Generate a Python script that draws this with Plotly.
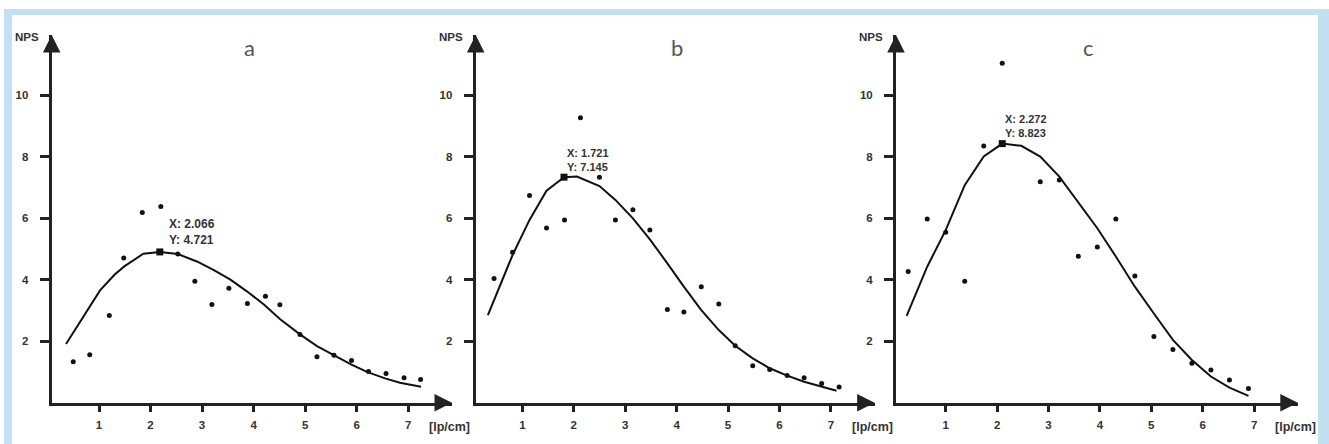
import plotly.graph_objects as go

W, H = 1329, 444

# ---------------- data ----------------
panel_titles = ["a", "b", "c"]

a_pts_x = [0.50, 0.82, 1.20, 1.48, 1.84, 2.20, 2.53, 2.86, 3.19, 3.52, 3.88, 4.23, 4.51, 4.90, 5.23, 5.56, 5.90, 6.23, 6.57, 6.92, 7.24]
a_pts_y = [1.33, 1.56, 2.83, 4.70, 6.18, 6.38, 4.83, 3.95, 3.19, 3.72, 3.22, 3.46, 3.18, 2.22, 1.49, 1.54, 1.37, 1.01, 0.95, 0.81, 0.75]
a_fit_x = [0.36, 0.70, 1.02, 1.30, 1.49, 1.86, 2.18, 2.53, 2.90, 3.22, 3.55, 3.87, 4.20, 4.51, 4.90, 5.23, 5.55, 5.90, 6.20, 6.55, 6.84, 7.25]
a_fit_y = [1.91, 2.81, 3.65, 4.16, 4.43, 4.84, 4.90, 4.83, 4.59, 4.32, 4.00, 3.62, 3.19, 2.72, 2.22, 1.84, 1.54, 1.24, 1.00, 0.79, 0.65, 0.52]

b_pts_x = [0.45, 0.81, 1.14, 1.47, 1.82, 2.13, 2.50, 2.81, 3.15, 3.48, 3.82, 4.14, 4.48, 4.82, 5.14, 5.48, 5.81, 6.15, 6.48, 6.82, 7.16]
b_pts_y = [4.04, 4.89, 6.73, 5.68, 5.94, 9.26, 7.33, 5.94, 6.27, 5.61, 3.03, 2.95, 3.77, 3.21, 1.85, 1.20, 1.08, 0.88, 0.81, 0.62, 0.51]
b_fit_x = [0.33, 0.81, 1.14, 1.47, 1.81, 2.06, 2.50, 2.81, 3.15, 3.48, 3.82, 4.14, 4.48, 4.82, 5.14, 5.48, 5.81, 6.15, 6.48, 6.82, 7.11]
b_fit_y = [2.85, 4.80, 5.94, 6.89, 7.33, 7.35, 7.04, 6.59, 5.99, 5.31, 4.53, 3.77, 3.01, 2.36, 1.85, 1.44, 1.12, 0.88, 0.68, 0.52, 0.39]

c_pts_x = [0.27, 0.64, 1.00, 1.37, 1.74, 2.10, 2.84, 3.21, 3.58, 3.95, 4.31, 4.68, 5.05, 5.42, 5.79, 6.16, 6.52, 6.89]
c_pts_y = [4.26, 5.97, 5.54, 3.95, 8.34, 11.03, 7.18, 7.24, 4.76, 5.06, 5.97, 4.12, 2.15, 1.73, 1.28, 1.06, 0.74, 0.46]
c_fit_x = [0.24, 0.64, 1.00, 1.37, 1.74, 2.10, 2.47, 2.84, 3.21, 3.58, 3.95, 4.31, 4.68, 5.05, 5.42, 5.79, 6.16, 6.52, 6.89]
c_fit_y = [2.82, 4.42, 5.61, 7.07, 8.00, 8.42, 8.35, 8.00, 7.35, 6.53, 5.67, 4.75, 3.77, 2.90, 2.04, 1.39, 0.85, 0.49, 0.22]

peak_x = [2.18, 1.81, 2.10]
peak_y = [4.90, 7.33, 8.42]
peak_labels = ["X: 2.066<br>Y: 4.721", "X: 1.721<br>Y: 7.145", "X: 2.272<br>Y: 8.823"]

x_tickvals = [1, 2, 3, 4, 5, 6, 7]
y_tickvals = [2, 4, 6, 8, 10]
y_label = "NPS"
x_label = "[lp/cm]"

# ---------------- layout geometry ----------------
x_domains = [[51.7 / W, 452.0 / W], [475.7 / W, 874.6 / W], [896.0 / W, 1297.8 / W]]
x_ranges = [[0.082, 7.85], [0.093, 7.85], [0.033, 7.85]]
y_domain = [1 - 402.7 / H, 1 - 35.0 / H]
y_range = [0, 11.95]
title_pos = [0.493, 0.505, 0.48]
label_shift = [(7, 3, 12), (1, 2, 11), (1, 3, 11)]

pts = [(a_pts_x, a_pts_y), (b_pts_x, b_pts_y), (c_pts_x, c_pts_y)]
fits = [(a_fit_x, a_fit_y), (b_fit_x, b_fit_y), (c_fit_x, c_fit_y)]

AX = "#222222"
TXT = "#333333"
tickfont = dict(family="Liberation Sans, Arial, sans-serif", size=11.5, color=TXT, weight="bold")

fig = go.Figure()
annotations = []
layout_axes = {}

for i in range(3):
    sx = "" if i == 0 else str(i + 1)
    xr, yr = "x" + sx, "y" + sx
    fx, fy = fits[i]
    px_, py_ = pts[i]
    fig.add_trace(go.Scatter(x=fx, y=fy, mode="lines", xaxis=xr, yaxis=yr,
                             line=dict(color="#111111", width=2), showlegend=False, hoverinfo="skip"))
    fig.add_trace(go.Scatter(x=px_, y=py_, mode="markers", xaxis=xr, yaxis=yr,
                             marker=dict(color="#111111", size=5), showlegend=False, cliponaxis=False))
    fig.add_trace(go.Scatter(x=[peak_x[i]], y=[peak_y[i]], mode="markers", xaxis=xr, yaxis=yr,
                             marker=dict(color="#111111", size=7, symbol="square"), showlegend=False,
                             cliponaxis=False))

    layout_axes["xaxis" + sx] = dict(
        domain=x_domains[i], range=x_ranges[i], anchor=yr,
        showgrid=False, zeroline=False, showline=True, linecolor=AX, linewidth=3,
        ticks="outside", ticklen=6, tickwidth=3, tickcolor=AX,
        tickvals=x_tickvals, tickfont=tickfont, ticklabelstandoff=3,
    )
    layout_axes["yaxis" + sx] = dict(
        domain=y_domain, range=y_range, anchor=xr,
        showgrid=False, zeroline=False, showline=True, linecolor=AX, linewidth=3,
        ticks="outside", ticklen=9, tickwidth=3, tickcolor=AX,
        tickvals=y_tickvals, tickfont=tickfont, ticklabelstandoff=9,
    )

    xd, yd = xr + " domain", yr + " domain"
    # arrow heads
    annotations.append(dict(xref=xd, yref=yr, x=1, y=0, ax=-14, ay=0, axref="pixel", ayref="pixel",
                            text="", showarrow=True, arrowhead=2, arrowsize=1.4, arrowwidth=2.5,
                            arrowcolor=AX))
    annotations.append(dict(xref=xr, yref=yd, x=x_ranges[i][0], y=1, ax=0, ay=14,
                            text="", showarrow=True, arrowhead=2, arrowsize=1.4, arrowwidth=2.5,
                            arrowcolor=AX))
    # axis labels
    annotations.append(dict(xref=xd, yref=yd, x=0, y=1, xanchor="right", yanchor="middle",
                            xshift=-11, yshift=-2, text=y_label, showarrow=False,
                            font=dict(family="Liberation Sans, Arial", size=11.5, color=TXT, weight="bold")))
    annotations.append(dict(xref=xd, yref=yr, x=1, y=0, xanchor="left", yanchor="middle",
                            xshift=-25, yshift=-24, text=x_label, showarrow=False,
                            font=dict(family="Liberation Sans, Arial", size=12.5, color=TXT, weight="bold")))
    # panel title
    annotations.append(dict(xref=xd, yref=yd, x=title_pos[i], y=0.965, xanchor="center",
                            yanchor="middle", text=panel_titles[i], showarrow=False,
                            font=dict(family="Lato, Open Sans, sans-serif", size=22, color="#555555")))
    # peak label
    dx, dy, fs = label_shift[i]
    annotations.append(dict(xref=xr, yref=yr, x=peak_x[i], y=peak_y[i], xanchor="left",
                            yanchor="bottom", xshift=dx, yshift=dy, align="left",
                            text=peak_labels[i], showarrow=False,
                            font=dict(family="Liberation Sans, Arial", size=fs, color=TXT, weight="bold")))

BLUE = "#c3e0f1"
shapes = [
    dict(type="rect", xref="paper", yref="paper", x0=4 / W, x1=1.0, y0=0, y1=1 - 9 / H,
         fillcolor=BLUE, line=dict(width=0), layer="below"),
    dict(type="rect", xref="paper", yref="paper", x0=12 / W, x1=1318 / W, y0=0, y1=1 - 15 / H,
         fillcolor="white", line=dict(width=0), layer="below"),
]

fig.update_layout(
    width=W, height=H, margin=dict(l=0, r=0, t=0, b=0),
    paper_bgcolor="white", plot_bgcolor="rgba(0,0,0,0)",
    annotations=annotations, shapes=shapes, showlegend=False,
    **layout_axes,
)

fig.write_html("out.html", config={"displayModeBar": False},
               post_script="document.body.style.margin='0px';document.body.style.overflow='hidden';")
